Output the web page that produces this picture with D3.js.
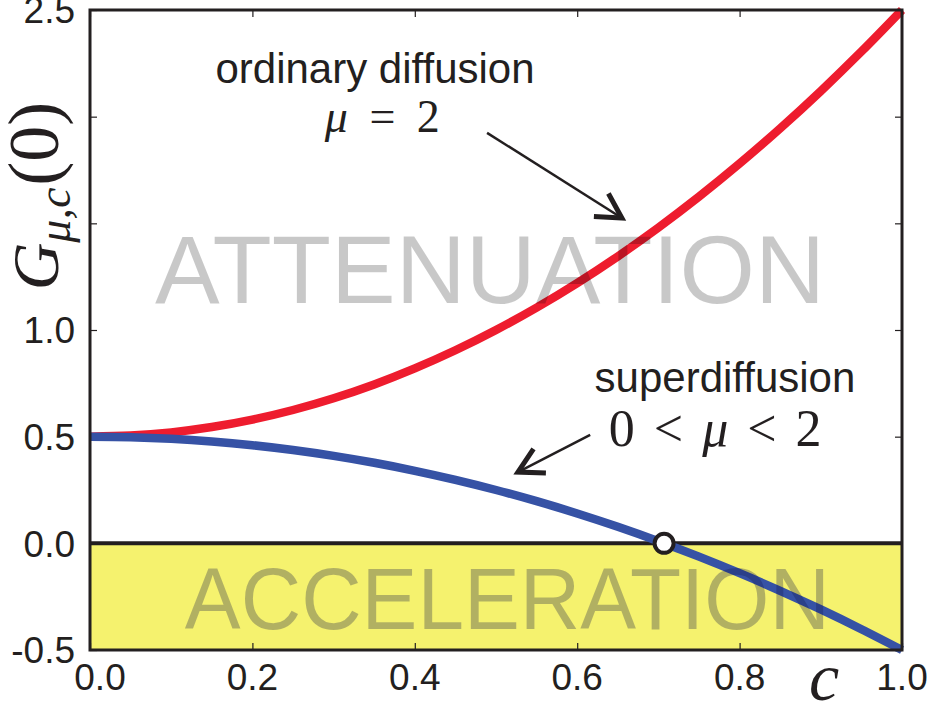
<!DOCTYPE html>
<html>
<head>
<meta charset="utf-8">
<script src="https://cdn.jsdelivr.net/npm/d3@7/dist/d3.min.js"></script>
<style>
  html, body { margin: 0; padding: 0; background: #fff; }
  svg { display: block; }
</style>
</head>
<body>
<svg id="chart" width="932" height="711"></svg>
<script>
// c values along the horizontal axis
const cValues = [0, 0.05, 0.1, 0.15, 0.2, 0.25, 0.3, 0.35, 0.4, 0.45, 0.5,
                 0.55, 0.6, 0.65, 0.7, 0.75, 0.8, 0.85, 0.9, 0.95, 1.0];
// G_{mu,c}(0) for ordinary diffusion (mu = 2)
const ordinary = [0.50, 0.505, 0.52, 0.545, 0.58, 0.625, 0.68, 0.745, 0.82, 0.905, 1.00,
                  1.105, 1.22, 1.345, 1.48, 1.625, 1.78, 1.945, 2.12, 2.305, 2.50];
// G_{mu,c}(0) for superdiffusion (0 < mu < 2)
const superdiff = [0.50, 0.4975, 0.49, 0.4775, 0.46, 0.4375, 0.41, 0.3775, 0.34, 0.2975, 0.25,
                   0.1975, 0.14, 0.0775, 0.01, -0.0625, -0.14, -0.2225, -0.31, -0.4025, -0.50];
// point where the superdiffusion curve changes sign
const crossing = { c: 0.707, g: 0 };

const xTicks = [0, 0.2, 0.4, 0.6, 0.8, 1.0];
const xTickLabels = ["0.0", "0.2", "0.4", "0.6", "0.8", "1.0"];
const yTicks = [-0.5, 0, 0.5, 1.0, 1.5, 2.0, 2.5];
const yTickLabels = ["-0.5", "0.0", "0.5", "1.0", "", "", "2.5"];

const W = 932, H = 711;
const margin = { left: 90, top: 10, right: 30, bottom: 61 };
const iw = W - margin.left - margin.right;
const ih = H - margin.top - margin.bottom;

const svg = d3.select("#chart");
const g = svg.append("g").attr("transform", `translate(${margin.left},${margin.top})`);

const x = d3.scaleLinear().domain([0, 1]).range([0, iw]);
const y = d3.scaleLinear().domain([-0.5, 2.5]).range([ih, 0]);

const ink = "#231f20";
const sans = "'Liberation Sans', Arial, Helvetica, sans-serif";
const serif = "'Liberation Serif', 'Times New Roman', serif";

// acceleration region below zero
g.append("rect")
  .attr("x", x(0)).attr("y", y(0))
  .attr("width", x(1) - x(0)).attr("height", y(-0.5) - y(0))
  .attr("fill", "#f5f26e");

// inward ticks on all four sides
const tickLen = 7;
const axes = [
  d3.axisBottom(x).tickValues(xTicks).tickSize(tickLen),
  d3.axisTop(x).tickValues(xTicks).tickSize(tickLen),
  d3.axisLeft(y).tickValues(yTicks).tickSize(tickLen),
  d3.axisRight(y).tickValues(yTicks).tickSize(tickLen)
];
const axisPos = [`translate(0,${ih - tickLen})`, `translate(0,${tickLen})`,
                 `translate(${tickLen},0)`, `translate(${iw - tickLen},0)`];
axes.forEach((ax, i) => {
  const a = g.append("g").attr("transform", axisPos[i]).call(ax.tickFormat(""));
  a.select(".domain").remove();
  a.selectAll("line").attr("stroke", ink).attr("stroke-width", 1.2);
  // flip so ticks point into the plot
  if (i === 0) a.selectAll("line").attr("y2", tickLen);
  if (i === 1) a.selectAll("line").attr("y2", -tickLen);
  if (i === 2) a.selectAll("line").attr("x2", -tickLen);
  if (i === 3) a.selectAll("line").attr("x2", tickLen);
});

// zero line
g.append("line")
  .attr("x1", x(0)).attr("x2", x(1))
  .attr("y1", y(0)).attr("y2", y(0))
  .attr("stroke", ink).attr("stroke-width", 4);

// curves
const line = d3.line()
  .x((d, i) => x(cValues[i]))
  .y(d => y(d))
  .curve(d3.curveMonotoneX);

g.append("path").datum(ordinary)
  .attr("d", line).attr("fill", "none")
  .attr("stroke", "#ee1c2e").attr("stroke-width", 8.5);

g.append("path").datum(superdiff)
  .attr("d", line).attr("fill", "none")
  .attr("stroke", "#3652a5").attr("stroke-width", 8.5);

// region labels, drawn translucent over the curves
g.append("text")
  .attr("x", x(0.4926)).attr("y", y(1.127))
  .attr("text-anchor", "middle")
  .attr("font-family", sans).attr("font-size", 97)
  .attr("textLength", 670).attr("lengthAdjust", "spacingAndGlyphs")
  .attr("fill", "#000").attr("fill-opacity", 0.215)
  .text("ATTENUATION");

g.append("text")
  .attr("x", x(0.514)).attr("y", y(-0.402))
  .attr("text-anchor", "middle")
  .attr("font-family", sans).attr("font-size", 87)
  .attr("textLength", 645).attr("lengthAdjust", "spacingAndGlyphs")
  .attr("fill", "#141848").attr("fill-opacity", 0.3)
  .text("ACCELERATION");

// frame
g.append("rect")
  .attr("x", 0).attr("y", 0).attr("width", iw).attr("height", ih)
  .attr("fill", "none").attr("stroke", ink).attr("stroke-width", 3);

// crossing marker
g.append("circle")
  .attr("cx", x(crossing.c)).attr("cy", y(crossing.g)).attr("r", 9.5)
  .attr("fill", "#fff").attr("stroke", ink).attr("stroke-width", 4);

// tick labels
const xLabelShift = { "0.0": 10 };
g.selectAll(".xl").data(xTicks).enter().append("text")
  .attr("x", (d, i) => x(d) + (xLabelShift[xTickLabels[i]] || 0))
  .attr("y", ih + 40)
  .attr("text-anchor", "middle")
  .attr("font-family", sans).attr("font-size", 37).attr("fill", ink)
  .text((d, i) => xTickLabels[i]);

g.selectAll(".yl").data(yTicks).enter().append("text")
  .attr("x", -15)
  .attr("y", d => y(d))
  .attr("dy", "0.36em")
  .attr("text-anchor", "end")
  .attr("font-family", sans).attr("font-size", 37).attr("fill", ink)
  .text((d, i) => yTickLabels[i]);

// axis titles
svg.append("text")
  .attr("x", 824).attr("y", 700)
  .attr("text-anchor", "middle")
  .attr("font-family", serif).attr("font-style", "italic").attr("font-size", 68)
  .attr("fill", ink)
  .text("c");

const yt = svg.append("text")
  .attr("transform", "translate(58,196) rotate(-90)")
  .attr("text-anchor", "middle")
  .attr("font-family", serif).attr("font-size", 66).attr("fill", ink);
yt.append("tspan").attr("font-style", "italic").text("G");
yt.append("tspan").attr("font-style", "italic").attr("font-size", 46).attr("dy", 12).text("μ,c");
yt.append("tspan").attr("dy", -12).attr("font-size", 72).attr("dx", 2).text("(0)");

// annotations
const annot = [
  { text: "ordinary diffusion", c: 0.351, g: 2.158 },
  { text: "superdiffusion", c: 0.782, g: 0.709 }
];
annot.forEach(a => {
  g.append("text")
    .attr("x", x(a.c)).attr("y", y(a.g))
    .attr("text-anchor", "middle")
    .attr("font-family", sans).attr("font-size", 42).attr("fill", ink)
    .text(a.text);
});

function mathText(parts, c, gv, size, gap) {
  const t = g.append("text")
    .attr("x", x(c)).attr("y", y(gv))
    .attr("text-anchor", "middle")
    .attr("font-family", serif).attr("font-size", size).attr("fill", ink)
    .attr("word-spacing", gap)
    .attr("xml:space", "preserve");
  parts.forEach(p => t.append("tspan").attr("font-style", p.i ? "italic" : "normal").text(p.t));
}
mathText([{ t: "μ", i: true }, { t: " = 2" }], 0.36, 1.928, 46, 10);
mathText([{ t: "0 < " }, { t: "μ", i: true }, { t: " < 2" }], 0.77, 0.456, 52, 6);

// arrows with open heads
const arrows = [
  { from: [0.489, 1.924], to: [0.655, 1.525] },
  { from: [0.616, 0.508], to: [0.527, 0.334] }
];
arrows.forEach(a => {
  const x0 = x(a.from[0]), y0 = y(a.from[1]);
  const x1 = x(a.to[0]), y1 = y(a.to[1]);
  g.append("line")
    .attr("x1", x0).attr("y1", y0).attr("x2", x1).attr("y2", y1)
    .attr("stroke", ink).attr("stroke-width", 2.5);
  const ang = Math.atan2(y0 - y1, x0 - x1);
  const len = 28, spread = Math.PI / 6.2;
  const p1 = [x1 + len * Math.cos(ang - spread), y1 + len * Math.sin(ang - spread)];
  const p2 = [x1 + len * Math.cos(ang + spread), y1 + len * Math.sin(ang + spread)];
  g.append("path")
    .attr("d", `M${p1[0]},${p1[1]}L${x1},${y1}L${p2[0]},${p2[1]}`)
    .attr("fill", "none").attr("stroke", ink).attr("stroke-width", 5)
    .attr("stroke-linejoin", "miter").attr("stroke-miterlimit", 10);
});
</script>
</body>
</html>
